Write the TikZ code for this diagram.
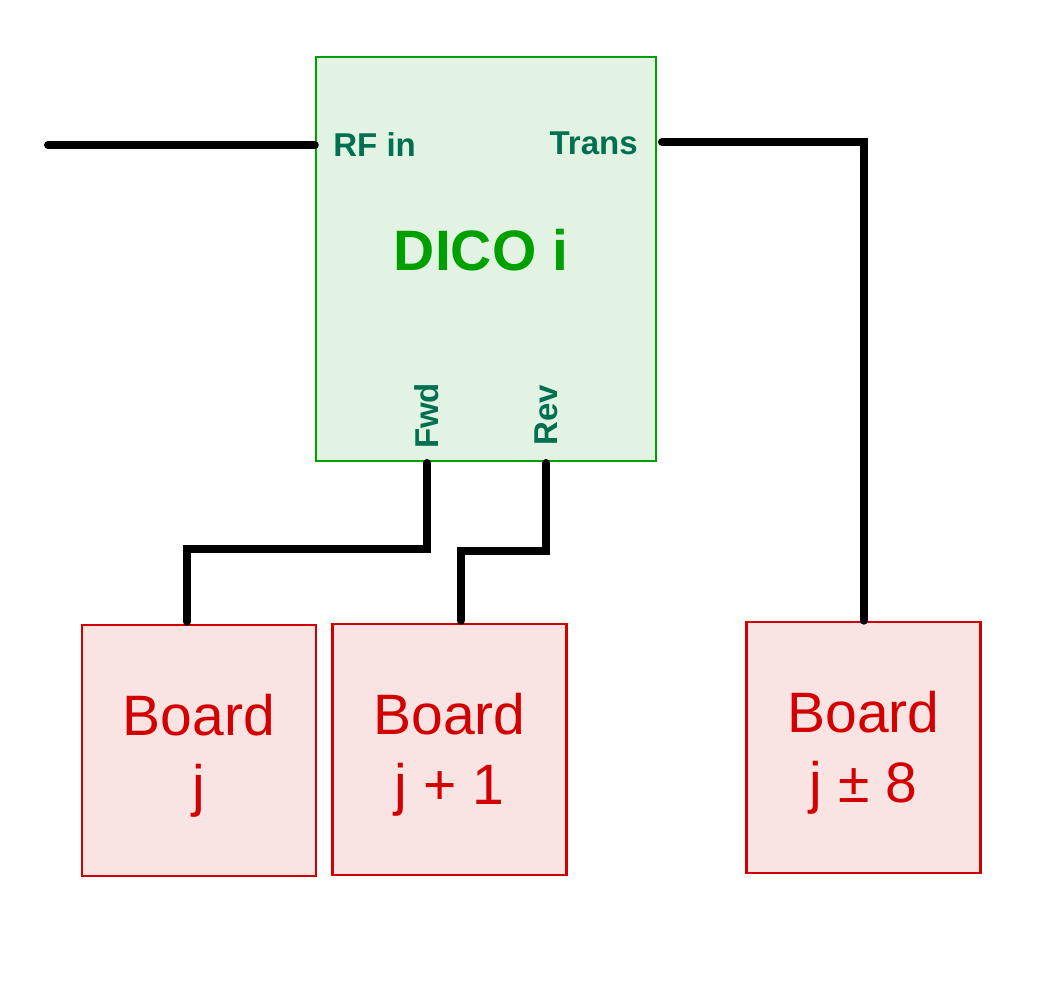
\documentclass[tikz,border=0pt]{standalone}
\usepackage{fontspec}
\setmainfont{Liberation Sans}
\definecolor{dicofill}{RGB}{227,243,227}
\definecolor{dicoline}{RGB}{0,160,0}
\definecolor{porttext}{RGB}{0,112,80}
\definecolor{boardfill}{RGB}{250,227,227}
\definecolor{boardline}{RGB}{210,0,0}
\tikzset{
  dicobox/.style={draw=dicoline, fill=dicofill, line width=1.2pt, minimum width=170pt, minimum height=202pt, inner sep=0pt},
  boardbox/.style={draw=boardline, fill=boardfill, line width=1.3pt, minimum width=117pt, minimum height=125.5pt, inner sep=0pt},
  boardtext/.style={text=boardline, font=\fontsize{28.5}{35}\selectfont, align=center, inner sep=0pt},
  portlabel/.style={text=porttext, font=\bfseries\fontsize{16.5}{18}\selectfont, inner sep=0pt},
  wire/.style={line width=4pt, line cap=round, line join=miter},
}
\begin{document}
\begin{tikzpicture}[x=0.5pt,y=-0.5pt]
\useasboundingbox (0,0) rectangle (1047,1000);
\node[dicobox] (dico) at (486,259) {};
\node[text=dicoline, font=\bfseries\fontsize{28.5}{30}\selectfont, inner sep=0pt] (title) at (481,250) {DICO i};
\node[portlabel, anchor=base west] (rfin) at (333,157) {RF in};
\node[portlabel, anchor=base east] (trans) at (638,155) {Trans};
\node[portlabel, rotate=90] (fwd) at (427,416) {Fwd};
\node[portlabel, rotate=90] (rev) at (546,415) {Rev};

\node[boardbox] (bj) at (199,750.5) {};
\node[boardbox] (bj1) at (449.5,749.5) {};
\node[boardbox] (bj8) at (863.5,747.5) {};
\node[boardtext] (tj) at ([yshift=-2.5pt]bj.center) {Board\\j};
\node[boardtext] (tj1) at ([yshift=-2.5pt]bj1.center) {Board\\j + 1};
\node[boardtext] (tj8) at ([yshift=-2.5pt]bj8.center) {Board\\j ± 8};

\coordinate (inend) at (48,145);
\coordinate (fwdport) at (427,463);
\coordinate (revport) at (546,463);
\coordinate (transport) at (662,142);

\draw[wire] (inend) -- (dico.west |- inend);
\draw[wire] (transport) -| ([xshift=0pt]bj8.north);
\draw[wire] (fwdport) -- ++(0,86) -| ([xshift=-6pt,yshift=1pt]bj.north);
\draw[wire] (revport) -- ++(0,88) -| ([xshift=5.5pt,yshift=1pt]bj1.north);
\end{tikzpicture}
\end{document}
